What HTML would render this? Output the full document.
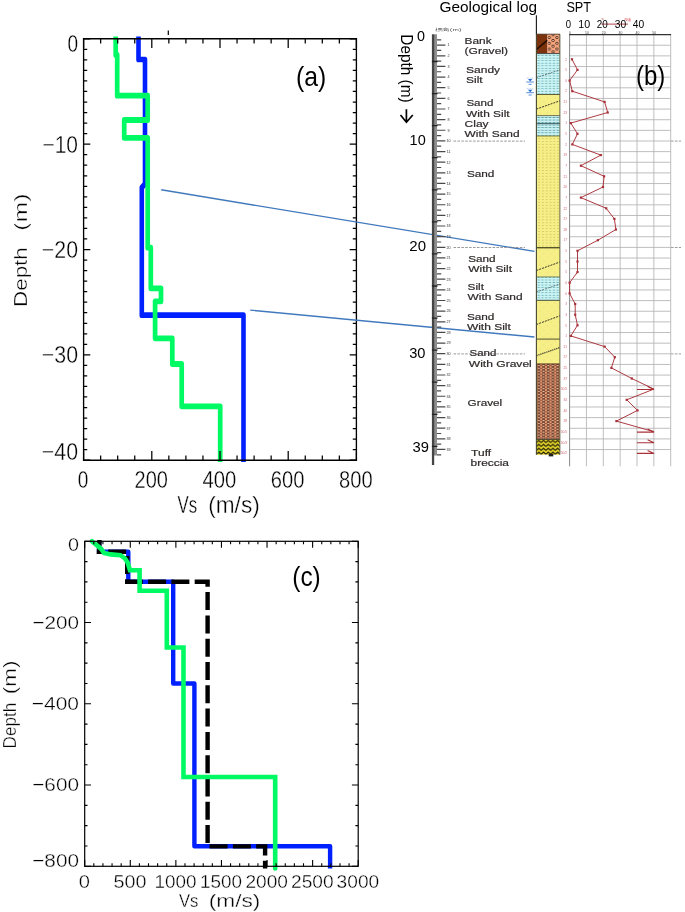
<!DOCTYPE html>
<html lang="en"><head><meta charset="utf-8"><title>Vs profiles and geological log</title>
<style>
html,body{margin:0;padding:0;background:#fff}
svg{display:block}
text{font-family:"Liberation Sans", sans-serif}
.idl text{fill:#000;stroke:#fff;stroke-width:0.34px}
</style></head><body>
<svg width="685" height="912" viewBox="0 0 685 912">
<defs>
<filter id="soft" x="-5%" y="-5%" width="110%" height="110%"><feGaussianBlur stdDeviation="0.45"/></filter>
<filter id="soft2" x="-5%" y="-5%" width="110%" height="110%"><feGaussianBlur stdDeviation="0.3"/></filter>
<pattern id="pBank" width="7.6" height="5.7" patternUnits="userSpaceOnUse" x="547.4" y="36.2">
 <rect width="7.6" height="5.7" fill="#f6a57e"/>
 <ellipse cx="1.9" cy="1.4" rx="1.4" ry="1" fill="#f8c0a0" stroke="#35180a" stroke-width="0.8"/>
 <ellipse cx="5.7" cy="4.25" rx="1.4" ry="1" fill="#f8c0a0" stroke="#35180a" stroke-width="0.8"/>
</pattern>
<pattern id="pCyan" width="3.8" height="2.55" patternUnits="userSpaceOnUse" x="536.8" y="54.3">
 <rect width="3.8" height="2.55" fill="#cbf4f5"/>
 <rect x="0.7" y="0.95" width="2.3" height="0.6" fill="#4b979e"/>
</pattern>
<pattern id="pCyan2" width="3.8" height="2.55" patternUnits="userSpaceOnUse" x="536.8" y="116.2">
 <rect width="3.8" height="2.55" fill="#c9f3f4"/>
 <rect x="0.6" y="0.9" width="2.6" height="0.65" fill="#3c7f88"/>
</pattern>
<pattern id="pYel" width="7.6" height="7.6" patternUnits="userSpaceOnUse" x="538" y="96">
 <rect width="7.6" height="7.6" fill="#f6ee86"/>
 <circle cx="1.9" cy="1.9" r="0.45" fill="#dccb6a"/><circle cx="5.7" cy="5.7" r="0.45" fill="#dccb6a"/>
</pattern>
<pattern id="pDots" width="3.8" height="2.9" patternUnits="userSpaceOnUse" x="537.2" y="137.2">
 <rect width="3.8" height="2.9" fill="#f6ee86"/>
 <rect x="1.4" y="1.0" width="1.0" height="0.9" fill="#bba84c"/>
</pattern>
<pattern id="pGrav" width="4.7" height="2.9" patternUnits="userSpaceOnUse" x="536.5" y="364">
 <rect width="4.7" height="2.9" fill="#ee9a74"/>
 <ellipse cx="2.35" cy="1.45" rx="1.7" ry="0.95" fill="#fbc9ab" stroke="#3c1505" stroke-width="0.8"/>
</pattern>
<pattern id="pTuff" width="4.7" height="3.9" patternUnits="userSpaceOnUse" x="536.5" y="439.4">
 <rect width="4.7" height="3.9" fill="#e9d82a"/>
 <path d="M0,3.9L2.35,1.9L4.7,3.9L4.7,2.4L2.35,0.3L0,2.4z" fill="#1e1a08"/>
</pattern>
</defs>
<g id="panelA">
<g transform="scale(1,1.24)"><polyline points="138.5,29.44 138.5,47.98 145.0,47.98 145.0,148.39 141.8,151.21 141.8,254.19 243.5,254.19 243.5,372.58" fill="none" stroke="#0020ff" stroke-width="4.6" stroke-linejoin="round" /></g>
<g transform="scale(1,1.24)"><polyline points="115.7,29.44 115.7,44.35 117.2,44.35 117.2,77.18 147.7,77.18 147.7,96.77 124.2,96.77 124.2,111.13 147.7,111.13 147.7,199.76 150.8,199.76 150.8,232.50 161.0,232.50 161.0,242.98 155.1,242.98 155.1,272.82 172.3,272.82 172.3,293.55 181.7,293.55 181.7,327.66 220.2,327.66 220.2,372.58" fill="none" stroke="#00fa64" stroke-width="4.7" stroke-linejoin="round" /></g>
<path d="M82.89999999999999,38.8H357.09999999999997M82.89999999999999,460.2H357.09999999999997" stroke="#000" stroke-width="1.6" fill="none"/>
<path d="M83.6,38.8V460.2M356.4,38.8V460.2" stroke="#000" stroke-width="1.35" fill="none"/>
<path d="M83.60,460.2v-9.3M83.60,38.8v9.3M100.65,460.2v-4.7M100.65,38.8v4.7M117.70,460.2v-4.7M117.70,38.8v4.7M134.75,460.2v-4.7M134.75,38.8v4.7M151.80,460.2v-9.3M151.80,38.8v9.3M168.85,460.2v-4.7M168.85,38.8v4.7M185.90,460.2v-4.7M185.90,38.8v4.7M202.95,460.2v-4.7M202.95,38.8v4.7M220.00,460.2v-9.3M220.00,38.8v9.3M237.05,460.2v-4.7M237.05,38.8v4.7M254.10,460.2v-4.7M254.10,38.8v4.7M271.15,460.2v-4.7M271.15,38.8v4.7M288.20,460.2v-9.3M288.20,38.8v9.3M305.25,460.2v-4.7M305.25,38.8v4.7M322.30,460.2v-4.7M322.30,38.8v4.7M339.35,460.2v-4.7M339.35,38.8v4.7M356.40,460.2v-9.3M356.40,38.8v9.3M83.6,38.80h6.7M356.4,38.80h-6.7M83.6,49.33h3.6M356.4,49.33h-3.6M83.6,59.87h3.6M356.4,59.87h-3.6M83.6,70.41h3.6M356.4,70.41h-3.6M83.6,80.94h3.6M356.4,80.94h-3.6M83.6,91.47h3.6M356.4,91.47h-3.6M83.6,102.01h3.6M356.4,102.01h-3.6M83.6,112.54h3.6M356.4,112.54h-3.6M83.6,123.08h3.6M356.4,123.08h-3.6M83.6,133.62h3.6M356.4,133.62h-3.6M83.6,144.15h6.7M356.4,144.15h-6.7M83.6,154.69h3.6M356.4,154.69h-3.6M83.6,165.22h3.6M356.4,165.22h-3.6M83.6,175.75h3.6M356.4,175.75h-3.6M83.6,186.29h3.6M356.4,186.29h-3.6M83.6,196.82h3.6M356.4,196.82h-3.6M83.6,207.36h3.6M356.4,207.36h-3.6M83.6,217.89h3.6M356.4,217.89h-3.6M83.6,228.43h3.6M356.4,228.43h-3.6M83.6,238.96h3.6M356.4,238.96h-3.6M83.6,249.50h6.7M356.4,249.50h-6.7M83.6,260.03h3.6M356.4,260.03h-3.6M83.6,270.57h3.6M356.4,270.57h-3.6M83.6,281.10h3.6M356.4,281.10h-3.6M83.6,291.64h3.6M356.4,291.64h-3.6M83.6,302.18h3.6M356.4,302.18h-3.6M83.6,312.71h3.6M356.4,312.71h-3.6M83.6,323.25h3.6M356.4,323.25h-3.6M83.6,333.78h3.6M356.4,333.78h-3.6M83.6,344.31h3.6M356.4,344.31h-3.6M83.6,354.85h6.7M356.4,354.85h-6.7M83.6,365.38h3.6M356.4,365.38h-3.6M83.6,375.92h3.6M356.4,375.92h-3.6M83.6,386.45h3.6M356.4,386.45h-3.6M83.6,396.99h3.6M356.4,396.99h-3.6M83.6,407.53h3.6M356.4,407.53h-3.6M83.6,418.06h3.6M356.4,418.06h-3.6M83.6,428.59h3.6M356.4,428.59h-3.6M83.6,439.13h3.6M356.4,439.13h-3.6M83.6,449.66h3.6M356.4,449.66h-3.6M83.6,460.20h6.7M356.4,460.20h-6.7" stroke="#000" stroke-width="1.25" fill="none"/>
<path d="M168.3,30.5v4.5" stroke="#000" stroke-width="1.2"/>
<g class="idl">
<text x="83.0" y="488.4" font-size="24.2" text-anchor="middle" fill="#000" textLength="10.6" lengthAdjust="spacingAndGlyphs" >0</text>
<text x="151.2" y="488.4" font-size="24.2" text-anchor="middle" fill="#000" textLength="33.4" lengthAdjust="spacingAndGlyphs" >200</text>
<text x="219.4" y="488.4" font-size="24.2" text-anchor="middle" fill="#000" textLength="33.8" lengthAdjust="spacingAndGlyphs" >400</text>
<text x="287.6" y="488.4" font-size="24.2" text-anchor="middle" fill="#000" textLength="33.6" lengthAdjust="spacingAndGlyphs" >600</text>
<text x="355.8" y="488.4" font-size="24.2" text-anchor="middle" fill="#000" textLength="33.6" lengthAdjust="spacingAndGlyphs" >800</text>
<text x="78.0" y="51.8" font-size="24.2" text-anchor="end" fill="#000" textLength="10.6" lengthAdjust="spacingAndGlyphs" >0</text>
<text x="78.0" y="152.6" font-size="24.2" text-anchor="end" fill="#000" textLength="35.6" lengthAdjust="spacingAndGlyphs" >−10</text>
<text x="78.0" y="258.0" font-size="24.2" text-anchor="end" fill="#000" textLength="36.2" lengthAdjust="spacingAndGlyphs" >−20</text>
<text x="78.0" y="363.4" font-size="24.2" text-anchor="end" fill="#000" textLength="36.2" lengthAdjust="spacingAndGlyphs" >−30</text>
<text x="78.0" y="459.8" font-size="24.2" text-anchor="end" fill="#000" textLength="36.2" lengthAdjust="spacingAndGlyphs" >−40</text>
<text x="177.6" y="512.8" font-size="23.4" text-anchor="start" fill="#000" textLength="19.6" lengthAdjust="spacingAndGlyphs" >Vs</text>
<text x="208.2" y="512.8" font-size="23.4" text-anchor="start" fill="#000" textLength="51.6" lengthAdjust="spacingAndGlyphs" >(m/s)</text>
<text transform="translate(26.8,307) rotate(-90)" font-size="17.8" textLength="59.8" lengthAdjust="spacingAndGlyphs">Depth</text>
<text transform="translate(26.8,230.8) rotate(-90)" font-size="17.8" textLength="37.2" lengthAdjust="spacingAndGlyphs">(m)</text>
</g>
<text x="311.2" y="86.2" font-size="27.5" text-anchor="middle" fill="#000" textLength="30.2" lengthAdjust="spacingAndGlyphs" class="cal">(a)</text>
</g>
<g id="panelC">
<polyline points="99.4,541.3 99.0,551.7 128.3,551.7 128.3,581.8 173.2,581.8 173.2,683.5 194.4,683.5 194.4,846.2 330.1,846.2 330.1,868.5" fill="none" stroke="#0020ff" stroke-width="4.4" stroke-linejoin="round" />
<polyline points="99.5,540.0 98.9,551.7 127.2,551.7 127.2,581.7 207.6,581.7 207.6,846.4 265.1,846.4 265.1,868.5" fill="none" stroke="#000" stroke-width="4.4" stroke-linejoin="miter" stroke-dasharray="18 5.3" stroke-dashoffset="2.3"/>
<polyline points="92.0,541.3 101.2,548.9 104.0,553.0 110.8,554.4 120.4,555.2 125.0,558.5 127.6,562.5 130.0,570.2 139.6,570.2 139.6,590.7 166.8,590.7 166.8,647.5 183.5,647.5 183.5,777.0 275.2,777.0 275.2,868.5" fill="none" stroke="#00fa64" stroke-width="4.6" stroke-linejoin="miter" stroke-linecap="round"/>
<rect x="84.7" y="541.3" width="273.5" height="325.0" fill="none" stroke="#000" stroke-width="1.2"/>
<path d="M84.70,866.3v-6.4M84.70,541.3v6.4M93.82,866.3v-3.0M93.82,541.3v3.0M102.93,866.3v-3.0M102.93,541.3v3.0M112.05,866.3v-3.0M112.05,541.3v3.0M121.17,866.3v-3.0M121.17,541.3v3.0M130.28,866.3v-6.4M130.28,541.3v6.4M139.40,866.3v-3.0M139.40,541.3v3.0M148.52,866.3v-3.0M148.52,541.3v3.0M157.63,866.3v-3.0M157.63,541.3v3.0M166.75,866.3v-3.0M166.75,541.3v3.0M175.87,866.3v-6.4M175.87,541.3v6.4M184.98,866.3v-3.0M184.98,541.3v3.0M194.10,866.3v-3.0M194.10,541.3v3.0M203.22,866.3v-3.0M203.22,541.3v3.0M212.33,866.3v-3.0M212.33,541.3v3.0M221.45,866.3v-6.4M221.45,541.3v6.4M230.57,866.3v-3.0M230.57,541.3v3.0M239.68,866.3v-3.0M239.68,541.3v3.0M248.80,866.3v-3.0M248.80,541.3v3.0M257.92,866.3v-3.0M257.92,541.3v3.0M267.03,866.3v-6.4M267.03,541.3v6.4M276.15,866.3v-3.0M276.15,541.3v3.0M285.27,866.3v-3.0M285.27,541.3v3.0M294.38,866.3v-3.0M294.38,541.3v3.0M303.50,866.3v-3.0M303.50,541.3v3.0M312.62,866.3v-6.4M312.62,541.3v6.4M321.73,866.3v-3.0M321.73,541.3v3.0M330.85,866.3v-3.0M330.85,541.3v3.0M339.97,866.3v-3.0M339.97,541.3v3.0M349.08,866.3v-3.0M349.08,541.3v3.0M358.20,866.3v-6.4M358.20,541.3v6.4M84.7,541.30h6.3M358.2,541.30h-6.3M84.7,561.61h2.8M358.2,561.61h-2.8M84.7,581.92h2.8M358.2,581.92h-2.8M84.7,602.24h2.8M358.2,602.24h-2.8M84.7,622.55h6.3M358.2,622.55h-6.3M84.7,642.86h2.8M358.2,642.86h-2.8M84.7,663.17h2.8M358.2,663.17h-2.8M84.7,683.49h2.8M358.2,683.49h-2.8M84.7,703.80h6.3M358.2,703.80h-6.3M84.7,724.11h2.8M358.2,724.11h-2.8M84.7,744.42h2.8M358.2,744.42h-2.8M84.7,764.74h2.8M358.2,764.74h-2.8M84.7,785.05h6.3M358.2,785.05h-6.3M84.7,805.36h2.8M358.2,805.36h-2.8M84.7,825.67h2.8M358.2,825.67h-2.8M84.7,845.99h2.8M358.2,845.99h-2.8M84.7,866.30h6.3M358.2,866.30h-6.3" stroke="#000" stroke-width="1.1" fill="none"/>
<g class="idl">
<text x="84.4" y="888.3" font-size="18.6" text-anchor="middle" fill="#000" textLength="11.2" lengthAdjust="spacingAndGlyphs" >0</text>
<text x="130.0" y="888.3" font-size="18.6" text-anchor="middle" fill="#000" textLength="33" lengthAdjust="spacingAndGlyphs" >500</text>
<text x="175.6" y="888.3" font-size="18.6" text-anchor="middle" fill="#000" textLength="42" lengthAdjust="spacingAndGlyphs" >1000</text>
<text x="221.1" y="888.3" font-size="18.6" text-anchor="middle" fill="#000" textLength="42" lengthAdjust="spacingAndGlyphs" >1500</text>
<text x="266.7" y="888.3" font-size="18.6" text-anchor="middle" fill="#000" textLength="42.6" lengthAdjust="spacingAndGlyphs" >2000</text>
<text x="312.3" y="888.3" font-size="18.6" text-anchor="middle" fill="#000" textLength="42.6" lengthAdjust="spacingAndGlyphs" >2500</text>
<text x="357.9" y="888.3" font-size="18.6" text-anchor="middle" fill="#000" textLength="42.6" lengthAdjust="spacingAndGlyphs" >3000</text>
<text x="79.0" y="551.4" font-size="19.200000000000003" text-anchor="end" fill="#000" textLength="11" lengthAdjust="spacingAndGlyphs" >0</text>
<text x="79.0" y="628.5" font-size="19.200000000000003" text-anchor="end" fill="#000" textLength="46.6" lengthAdjust="spacingAndGlyphs" >−200</text>
<text x="79.0" y="709.8" font-size="19.200000000000003" text-anchor="end" fill="#000" textLength="47.2" lengthAdjust="spacingAndGlyphs" >−400</text>
<text x="79.0" y="791.0" font-size="19.200000000000003" text-anchor="end" fill="#000" textLength="46.8" lengthAdjust="spacingAndGlyphs" >−600</text>
<text x="79.0" y="867.1" font-size="19.200000000000003" text-anchor="end" fill="#000" textLength="46.8" lengthAdjust="spacingAndGlyphs" >−800</text>
<text x="178.9" y="906.7" font-size="18.0" text-anchor="start" fill="#000" textLength="19.4" lengthAdjust="spacingAndGlyphs" >Vs</text>
<text x="208.7" y="906.7" font-size="18.0" text-anchor="start" fill="#000" textLength="51.7" lengthAdjust="spacingAndGlyphs" >(m/s)</text>
<text transform="translate(16.2,748.4) rotate(-90)" font-size="17.5" textLength="45.6" lengthAdjust="spacingAndGlyphs">Depth</text>
<text transform="translate(16.2,694.2) rotate(-90)" font-size="17.5" textLength="33.8" lengthAdjust="spacingAndGlyphs">(m)</text>
</g>
<text x="306.5" y="586" font-size="27.5" text-anchor="middle" fill="#000" textLength="28.5" lengthAdjust="spacingAndGlyphs" class="cal">(c)</text>
</g>
<path d="M161.2,189.8L534.5,251.4M250.2,310.1L534.4,337" stroke="#4179bd" stroke-width="1.4" fill="none"/>
<g id="panelB">
<g filter="url(#soft)">
<rect x="434" y="34.3" width="3" height="421.2" fill="#8e8e8e"/>
<rect x="431.9" y="34.3" width="2.3" height="430.7" fill="#444"/>
<path d="M437,45.14h8.4M437,55.78h8.4M437,66.42h8.4M437,77.06h8.4M437,87.70h8.4M437,98.34h8.4M437,108.98h8.4M437,119.62h8.4M437,130.26h8.4M437,140.90h8.4M437,151.54h8.4M437,162.18h8.4M437,172.82h8.4M437,183.46h8.4M437,194.10h8.4M437,204.74h8.4M437,215.38h8.4M437,226.02h8.4M437,236.66h8.4M437,247.30h8.4M437,257.94h8.4M437,268.58h8.4M437,279.22h8.4M437,289.86h8.4M437,300.50h8.4M437,311.14h8.4M437,321.78h8.4M437,332.42h8.4M437,343.06h8.4M437,353.70h8.4M437,364.34h8.4M437,374.98h8.4M437,385.62h8.4M437,396.26h8.4M437,406.90h8.4M437,417.54h8.4M437,428.18h8.4M437,438.82h8.4M437,449.46h8.4" stroke="#4a4a4a" stroke-width="1.2"/>
<path d="M437,39.82h4.2M437,50.46h4.2M437,61.10h4.2M437,71.74h4.2M437,82.38h4.2M437,93.02h4.2M437,103.66h4.2M437,114.30h4.2M437,124.94h4.2M437,135.58h4.2M437,146.22h4.2M437,156.86h4.2M437,167.50h4.2M437,178.14h4.2M437,188.78h4.2M437,199.42h4.2M437,210.06h4.2M437,220.70h4.2M437,231.34h4.2M437,241.98h4.2M437,252.62h4.2M437,263.26h4.2M437,273.90h4.2M437,284.54h4.2M437,295.18h4.2M437,305.82h4.2M437,316.46h4.2M437,327.10h4.2M437,337.74h4.2M437,348.38h4.2M437,359.02h4.2M437,369.66h4.2M437,380.30h4.2M437,390.94h4.2M437,401.58h4.2M437,412.22h4.2M437,422.86h4.2M437,433.50h4.2M437,444.14h4.2M437,454.78h4.2" stroke="#4a4a4a" stroke-width="1.2"/>
<path d="M431.9,61.5h5.6M431.9,93.6h5.6M431.9,125.6h5.6M431.9,157.7h5.6M431.9,189.8h5.6M431.9,221.8h5.6M431.9,253.9h5.6M431.9,286.0h5.6M431.9,318.1h5.6M431.9,350.1h5.6M431.9,382.2h5.6M431.9,414.3h5.6M431.9,446.3h5.6" stroke="#222" stroke-width="1.3"/>
<g font-size="3.7" fill="#333" text-anchor="middle">
<text x="448.6" y="46.4">1</text>
<text x="448.6" y="57.1">2</text>
<text x="448.6" y="67.7">3</text>
<text x="448.6" y="78.4">4</text>
<text x="448.6" y="89.0">5</text>
<text x="448.6" y="99.6">6</text>
<text x="448.6" y="110.3">7</text>
<text x="448.6" y="120.9">8</text>
<text x="448.6" y="131.6">9</text>
<text x="448.6" y="142.2">10</text>
<text x="448.6" y="152.8">11</text>
<text x="448.6" y="163.5">12</text>
<text x="448.6" y="174.1">13</text>
<text x="448.6" y="184.8">14</text>
<text x="448.6" y="195.4">15</text>
<text x="448.6" y="206.0">16</text>
<text x="448.6" y="216.7">17</text>
<text x="448.6" y="227.3">18</text>
<text x="448.6" y="238.0">19</text>
<text x="448.6" y="248.6">20</text>
<text x="448.6" y="259.2">21</text>
<text x="448.6" y="269.9">22</text>
<text x="448.6" y="280.5">23</text>
<text x="448.6" y="291.2">24</text>
<text x="448.6" y="301.8">25</text>
<text x="448.6" y="312.4">26</text>
<text x="448.6" y="323.1">27</text>
<text x="448.6" y="333.7">28</text>
<text x="448.6" y="344.4">29</text>
<text x="448.6" y="355.0">30</text>
<text x="448.6" y="365.6">31</text>
<text x="448.6" y="376.3">32</text>
<text x="448.6" y="386.9">33</text>
<text x="448.6" y="397.6">34</text>
<text x="448.6" y="408.2">35</text>
<text x="448.6" y="418.8">36</text>
<text x="448.6" y="429.5">37</text>
<text x="448.6" y="440.1">38</text>
<text x="448.6" y="450.8">39</text>
</g>
<text x="435" y="31.2" font-size="4.2" fill="#555" textLength="26.5" lengthAdjust="spacingAndGlyphs" font-family='"Liberation Sans","Noto Sans CJK JP",sans-serif'>標高(m)</text>
<path d="M453.5,141.1H525M671,141.1H681" stroke="#808080" stroke-width="0.8" stroke-dasharray="2.6 1.3"/>
<path d="M453.5,247.5H525M671,247.5H681" stroke="#808080" stroke-width="0.8" stroke-dasharray="2.6 1.3"/>
<path d="M453.5,353.9H525M671,353.9H681" stroke="#808080" stroke-width="0.8" stroke-dasharray="2.6 1.3"/>
</g>
<g filter="url(#soft2)" fill="#2e2a2a" stroke="#2e2a2a" stroke-width="0.18">
<text x="464.6" y="43.8" font-size="8.3" text-anchor="start" fill="#2e2a2a" textLength="27" lengthAdjust="spacingAndGlyphs" >Bank</text>
<text x="464.6" y="54" font-size="8.3" text-anchor="start" fill="#2e2a2a" textLength="43.4" lengthAdjust="spacingAndGlyphs" >(Gravel)</text>
<text x="466.1" y="73" font-size="8.3" text-anchor="start" fill="#2e2a2a" textLength="34" lengthAdjust="spacingAndGlyphs" >Sandy</text>
<text x="466.1" y="83.2" font-size="8.3" text-anchor="start" fill="#2e2a2a" textLength="16.6" lengthAdjust="spacingAndGlyphs" >Silt</text>
<text x="466.4" y="106.3" font-size="8.3" text-anchor="start" fill="#2e2a2a" textLength="27" lengthAdjust="spacingAndGlyphs" >Sand</text>
<text x="466" y="116.8" font-size="8.3" text-anchor="start" fill="#2e2a2a" textLength="43.6" lengthAdjust="spacingAndGlyphs" >With Silt</text>
<text x="464.6" y="127.1" font-size="8.3" text-anchor="start" fill="#2e2a2a" textLength="24" lengthAdjust="spacingAndGlyphs" >Clay</text>
<text x="464.6" y="137" font-size="8.3" text-anchor="start" fill="#2e2a2a" textLength="55" lengthAdjust="spacingAndGlyphs" >With Sand</text>
<text x="466.9" y="177.2" font-size="8.3" text-anchor="start" fill="#2e2a2a" textLength="27.5" lengthAdjust="spacingAndGlyphs" >Sand</text>
<text x="468.3" y="261.7" font-size="8.3" text-anchor="start" fill="#2e2a2a" textLength="27.3" lengthAdjust="spacingAndGlyphs" >Sand</text>
<text x="468.3" y="271.5" font-size="8.3" text-anchor="start" fill="#2e2a2a" textLength="43.7" lengthAdjust="spacingAndGlyphs" >With Silt</text>
<text x="467.6" y="290.2" font-size="8.3" text-anchor="start" fill="#2e2a2a" textLength="16.4" lengthAdjust="spacingAndGlyphs" >Silt</text>
<text x="467.6" y="299.6" font-size="8.3" text-anchor="start" fill="#2e2a2a" textLength="55" lengthAdjust="spacingAndGlyphs" >With Sand</text>
<text x="466.9" y="320.1" font-size="8.3" text-anchor="start" fill="#2e2a2a" textLength="27.5" lengthAdjust="spacingAndGlyphs" >Sand</text>
<text x="466.9" y="329.9" font-size="8.3" text-anchor="start" fill="#2e2a2a" textLength="43.9" lengthAdjust="spacingAndGlyphs" >With Silt</text>
<text x="469.5" y="356.3" font-size="8.3" text-anchor="start" fill="#2e2a2a" textLength="26.8" lengthAdjust="spacingAndGlyphs" >Sand</text>
<text x="468.8" y="366.6" font-size="8.3" text-anchor="start" fill="#2e2a2a" textLength="63" lengthAdjust="spacingAndGlyphs" >With Gravel</text>
<text x="467.6" y="406" font-size="8.3" text-anchor="start" fill="#2e2a2a" textLength="34.6" lengthAdjust="spacingAndGlyphs" >Gravel</text>
<text x="471.1" y="455.8" font-size="8.3" text-anchor="start" fill="#2e2a2a" textLength="20" lengthAdjust="spacingAndGlyphs" >Tuff</text>
<text x="470.6" y="466.1" font-size="8.3" text-anchor="start" fill="#2e2a2a" textLength="38.4" lengthAdjust="spacingAndGlyphs" >breccia</text>
</g>
<g filter="url(#soft2)">
<rect x="536.4" y="34.2" width="10.800000000000068" height="19.4" fill="#7b3208"/>
<rect x="547.2" y="34.2" width="12.699999999999932" height="19.4" fill="url(#pBank)"/>
<path d="M536.4,49.5L547.2,40.4" stroke="#1a0a00" stroke-width="1.4"/>
<rect x="536.4" y="53.6" width="23.5" height="40.9" fill="url(#pCyan)"/>
<rect x="536.4" y="94.5" width="23.5" height="21.099999999999994" fill="url(#pYel)"/>
<rect x="536.4" y="115.6" width="23.5" height="8.100000000000009" fill="url(#pCyan2)"/>
<rect x="536.4" y="123.7" width="23.5" height="12.299999999999997" fill="url(#pCyan2)"/>
<rect x="536.4" y="136" width="23.5" height="111.69999999999999" fill="url(#pDots)"/>
<rect x="536.4" y="247.7" width="23.5" height="29.19999999999999" fill="url(#pYel)"/>
<rect x="536.4" y="276.9" width="23.5" height="23.400000000000034" fill="url(#pCyan)"/>
<rect x="536.4" y="300.3" width="23.5" height="38.80000000000001" fill="url(#pYel)"/>
<rect x="536.4" y="339.1" width="23.5" height="24.799999999999955" fill="url(#pYel)"/>
<rect x="536.4" y="363.9" width="23.5" height="75.40000000000003" fill="url(#pGrav)"/>
<rect x="536.4" y="439.3" width="23.5" height="15.399999999999977" fill="url(#pTuff)"/>
<path d="M536.4,53.6H559.9" stroke="#3a3a3a" stroke-width="0.9"/>
<path d="M536.4,94.5H559.9" stroke="#4f4f2c" stroke-width="0.9"/>
<path d="M536.4,115.6H559.9" stroke="#66663a" stroke-width="0.9"/>
<path d="M536.4,123.7H559.9" stroke="#2f5055" stroke-width="1.0"/>
<path d="M536.4,136H559.9" stroke="#77773a" stroke-width="0.9"/>
<path d="M536.4,247.7H559.9" stroke="#55552a" stroke-width="1.4"/>
<path d="M536.4,276.9H559.9" stroke="#66774a" stroke-width="0.8"/>
<path d="M536.4,300.3H559.9" stroke="#3f4f3f" stroke-width="1.0"/>
<path d="M536.4,339.1H559.9" stroke="#2a2a1a" stroke-width="0.8"/>
<path d="M536.4,363.9H559.9" stroke="#4a2a10" stroke-width="0.8"/>
<path d="M536.4,439.3H559.9" stroke="#222" stroke-width="0.9"/>
<path d="M536.4,77.6L559.9,69.9" stroke="#222" stroke-width="1.0" stroke-dasharray="2 1" opacity="0.55"/>
<path d="M536.4,109.1L559.9,100.8" stroke="#222" stroke-width="1.0" stroke-dasharray="2 1" opacity="0.9"/>
<path d="M536.4,270.5L559.9,262" stroke="#222" stroke-width="1.0" stroke-dasharray="2 1" opacity="0.9"/>
<path d="M536.4,292L559.9,284" stroke="#222" stroke-width="1.0" stroke-dasharray="2 1" opacity="0.55"/>
<path d="M536.4,324.5L559.9,315.8" stroke="#222" stroke-width="1.0" stroke-dasharray="2 1" opacity="0.9"/>
<path d="M536.4,355.7L559.9,347.5" stroke="#222" stroke-width="1.3" stroke-dasharray="1.2 0.9" opacity="0.9"/>
<rect x="548.7" y="454" width="4.6" height="2.4" fill="#222"/>
<path d="M536.4,15.3V34.5" stroke="#1a1a1a" stroke-width="1.1"/>
<path d="M536.4,34.2V454.7" stroke="#474733" stroke-width="1.1"/>
<path d="M559.9,34.2V454.7" stroke="#55553a" stroke-width="0.9"/>
<path d="M536.4,34.2H559.9" stroke="#3a2a1a" stroke-width="0.8"/>
<g stroke="#2a6fd0" fill="#2a6fd0"><path d="M528,79.10000000000001h4.4l-2.2,2.4z" stroke="none"/><path d="M526.3,82.0h7.6M528.6,84.3h3" stroke-width="0.8"/><path d="M526.8,78.10000000000001h6.6" stroke-width="0.6" stroke-dasharray="1 0.8" opacity="0.7"/></g>
<g stroke="#2a6fd0" fill="#2a6fd0"><path d="M528,89.80000000000001h4.4l-2.2,2.4z" stroke="none"/><path d="M526.3,92.7h7.6M528.6,95.0h3" stroke-width="0.8"/><path d="M526.8,88.80000000000001h6.6" stroke-width="0.6" stroke-dasharray="1 0.8" opacity="0.7"/></g>
</g>
<g filter="url(#soft)">
<path d="M569.6,45.24H670.7M569.6,55.88H670.7M569.6,66.52H670.7M569.6,77.16H670.7M569.6,87.80H670.7M569.6,98.44H670.7M569.6,109.08H670.7M569.6,119.72H670.7M569.6,130.36H670.7M569.6,141.00H670.7M569.6,151.64H670.7M569.6,162.28H670.7M569.6,172.92H670.7M569.6,183.56H670.7M569.6,194.20H670.7M569.6,204.84H670.7M569.6,215.48H670.7M569.6,226.12H670.7M569.6,236.76H670.7M569.6,247.40H670.7M569.6,258.04H670.7M569.6,268.68H670.7M569.6,279.32H670.7M569.6,289.96H670.7M569.6,300.60H670.7M569.6,311.24H670.7M569.6,321.88H670.7M569.6,332.52H670.7M569.6,343.16H670.7M569.6,353.80H670.7M569.6,364.44H670.7M569.6,375.08H670.7M569.6,385.72H670.7M569.6,396.36H670.7M569.6,407.00H670.7M569.6,417.64H670.7M569.6,428.28H670.7M569.6,438.92H670.7M569.6,449.56H670.7M586.45,34.6V466.3M603.30,34.6V466.3M620.15,34.6V466.3M637.00,34.6V466.3M653.85,34.6V466.3M670.70,34.6V466.3" stroke="#b2b2b2" stroke-width="0.85" fill="none"/>
<path d="M569.6,34.6V466.3" stroke="#888" stroke-width="1"/>
<path d="M569.2,34.7H671.1" stroke="#333" stroke-width="1.2"/>
<g font-size="3.4" fill="#444" text-anchor="middle">
<text x="570.0" y="34">0</text>
<text x="586.9" y="34">10</text>
<text x="603.7" y="34">20</text>
<text x="620.5" y="34">30</text>
<text x="637.4" y="34">40</text>
<text x="654.2" y="34">50</text>
</g>
<polyline points="572.0,59.3 577.5,69.9 569.6,80.6 572.3,91.2 604.6,101.9 607.7,112.5 570.8,123.1 577.5,133.8 572.3,144.4 600.8,155.1 580.9,165.7 604.1,176.3 603.0,187.0 580.9,197.6 606.2,208.3 614.4,218.9 615.9,229.5 597.9,240.2 577.5,250.8 577.5,261.5 577.5,272.1 569.6,282.7 569.6,293.4 575.2,304.0 575.2,314.7 577.5,325.3 570.8,335.9 604.6,346.6 614.8,357.2 611.4,367.9 631.8,378.5 653.9,389.1 626.7,399.8 637.5,410.4 616.4,421.1 653.9,431.7" fill="none" stroke="#a93038" stroke-width="0.95" stroke-linejoin="round"/>
<rect x="570.9" y="58.2" width="2.2" height="2.2" fill="#a93038"/>
<rect x="576.4" y="68.8" width="2.2" height="2.2" fill="#a93038"/>
<rect x="568.5" y="79.5" width="2.2" height="2.2" fill="#a93038"/>
<rect x="571.2" y="90.1" width="2.2" height="2.2" fill="#a93038"/>
<rect x="603.5" y="100.8" width="2.2" height="2.2" fill="#a93038"/>
<rect x="606.6" y="111.4" width="2.2" height="2.2" fill="#a93038"/>
<rect x="569.7" y="122.0" width="2.2" height="2.2" fill="#a93038"/>
<rect x="576.4" y="132.7" width="2.2" height="2.2" fill="#a93038"/>
<rect x="571.2" y="143.3" width="2.2" height="2.2" fill="#a93038"/>
<rect x="599.7" y="154.0" width="2.2" height="2.2" fill="#a93038"/>
<rect x="579.8" y="164.6" width="2.2" height="2.2" fill="#a93038"/>
<rect x="603.0" y="175.2" width="2.2" height="2.2" fill="#a93038"/>
<rect x="601.9" y="185.9" width="2.2" height="2.2" fill="#a93038"/>
<rect x="579.8" y="196.5" width="2.2" height="2.2" fill="#a93038"/>
<rect x="605.1" y="207.2" width="2.2" height="2.2" fill="#a93038"/>
<rect x="613.3" y="217.8" width="2.2" height="2.2" fill="#a93038"/>
<rect x="614.8" y="228.4" width="2.2" height="2.2" fill="#a93038"/>
<rect x="596.8" y="239.1" width="2.2" height="2.2" fill="#a93038"/>
<rect x="576.4" y="249.7" width="2.2" height="2.2" fill="#a93038"/>
<rect x="576.4" y="260.4" width="2.2" height="2.2" fill="#a93038"/>
<rect x="576.4" y="271.0" width="2.2" height="2.2" fill="#a93038"/>
<rect x="568.5" y="281.6" width="2.2" height="2.2" fill="#a93038"/>
<rect x="568.5" y="292.3" width="2.2" height="2.2" fill="#a93038"/>
<rect x="574.1" y="302.9" width="2.2" height="2.2" fill="#a93038"/>
<rect x="574.1" y="313.6" width="2.2" height="2.2" fill="#a93038"/>
<rect x="576.4" y="324.2" width="2.2" height="2.2" fill="#a93038"/>
<rect x="569.7" y="334.8" width="2.2" height="2.2" fill="#a93038"/>
<rect x="603.5" y="345.5" width="2.2" height="2.2" fill="#a93038"/>
<rect x="613.7" y="356.1" width="2.2" height="2.2" fill="#a93038"/>
<rect x="610.3" y="366.8" width="2.2" height="2.2" fill="#a93038"/>
<rect x="630.7" y="377.4" width="2.2" height="2.2" fill="#a93038"/>
<rect x="625.6" y="398.7" width="2.2" height="2.2" fill="#a93038"/>
<rect x="636.4" y="409.3" width="2.2" height="2.2" fill="#a93038"/>
<rect x="615.3" y="420.0" width="2.2" height="2.2" fill="#a93038"/>
<path d="M637,389.5H654L647.6,386.5M637,432.1H654L647.6,429.1M637,442.7H654L647.6,439.7M637,453.4H654L647.6,450.4" stroke="#a93038" stroke-width="1.1" fill="none"/>
<g font-size="3.3" fill="#d06a78" text-anchor="end">
<text x="567.2" y="60.5">2</text>
<text x="567.2" y="71.1">5</text>
<text x="567.2" y="81.8">0</text>
<text x="567.2" y="92.4">2</text>
<text x="567.2" y="103.1">21</text>
<text x="567.2" y="113.7">23</text>
<text x="567.2" y="124.3">1</text>
<text x="567.2" y="135.0">5</text>
<text x="567.2" y="145.6">2</text>
<text x="567.2" y="156.3">19</text>
<text x="567.2" y="166.9">7</text>
<text x="567.2" y="177.5">21</text>
<text x="567.2" y="188.2">20</text>
<text x="567.2" y="198.8">7</text>
<text x="567.2" y="209.5">22</text>
<text x="567.2" y="220.1">27</text>
<text x="567.2" y="230.7">28</text>
<text x="567.2" y="241.4">17</text>
<text x="567.2" y="252.0">5</text>
<text x="567.2" y="262.7">5</text>
<text x="567.2" y="273.3">5</text>
<text x="567.2" y="283.9">0</text>
<text x="567.2" y="294.6">0</text>
<text x="567.2" y="305.2">3</text>
<text x="567.2" y="315.9">3</text>
<text x="567.2" y="326.5">5</text>
<text x="567.2" y="337.1">1</text>
<text x="567.2" y="347.8">21</text>
<text x="567.2" y="358.4">27</text>
<text x="567.2" y="369.1">25</text>
<text x="567.2" y="379.7">37</text>
<text x="567.2" y="390.3">50/5</text>
<text x="567.2" y="401.0">34</text>
<text x="567.2" y="411.6">40</text>
<text x="567.2" y="422.3">28</text>
<text x="567.2" y="432.9">50/5</text>
<text x="567.2" y="443.5">50/3</text>
<text x="567.2" y="454.2">50/2</text>
</g>
<path d="M601.5,24.1H628" stroke="#a93038" stroke-width="0.9"/>
<text x="624.6" y="20.6" font-size="3.6" fill="#d0505a" font-family='"Liberation Sans","Noto Sans CJK JP",sans-serif'>N値</text>
<rect x="601.6" y="18.4" width="2" height="1.2" fill="#d88"/>
</g>
<g class="cal">
<text x="439.5" y="11.8" font-size="15" text-anchor="start" fill="#000" textLength="97.5" lengthAdjust="spacingAndGlyphs" >Geological log</text>
<text x="566.4" y="12.3" font-size="14" text-anchor="start" fill="#000" textLength="24.7" lengthAdjust="spacingAndGlyphs" >SPT</text>
<text x="565.8" y="28.1" font-size="11.6" text-anchor="start" fill="#000" textLength="5.3" lengthAdjust="spacingAndGlyphs" >0</text>
<text x="578.2" y="28.1" font-size="11.6" text-anchor="start" fill="#000" textLength="11.9" lengthAdjust="spacingAndGlyphs" >10</text>
<text x="596.8" y="28.1" font-size="11.6" text-anchor="start" fill="#000" textLength="11.0" lengthAdjust="spacingAndGlyphs" >20</text>
<text x="614.8" y="28.1" font-size="11.6" text-anchor="start" fill="#000" textLength="11.4" lengthAdjust="spacingAndGlyphs" >30</text>
<text x="632.8" y="28.1" font-size="11.6" text-anchor="start" fill="#000" textLength="11.4" lengthAdjust="spacingAndGlyphs" >40</text>
<text x="424.9" y="41.2" font-size="14" text-anchor="end" fill="#000" textLength="8" lengthAdjust="spacingAndGlyphs" >0</text>
<text x="425.7" y="144.7" font-size="14" text-anchor="end" fill="#000" textLength="16.1" lengthAdjust="spacingAndGlyphs" >10</text>
<text x="426" y="251.1" font-size="14" text-anchor="end" fill="#000" textLength="16.7" lengthAdjust="spacingAndGlyphs" >20</text>
<text x="425.5" y="357.5" font-size="14" text-anchor="end" fill="#000" textLength="16.3" lengthAdjust="spacingAndGlyphs" >30</text>
<text x="428.9" y="451.9" font-size="14" text-anchor="end" fill="#000" textLength="16.4" lengthAdjust="spacingAndGlyphs" >39</text>
<text transform="translate(400.7,34.3) rotate(90)" font-size="15.6" textLength="68.3" lengthAdjust="spacingAndGlyphs">Depth (m)</text>
<path d="M406.4,109.2V122M400.5,115L406.4,122.2L412.8,115" fill="none" stroke="#000" stroke-width="1.7" stroke-linejoin="miter"/>
<text x="650.6" y="85.4" font-size="28" text-anchor="middle" fill="#000" textLength="29.4" lengthAdjust="spacingAndGlyphs" >(b)</text>
</g>
</g>
</svg>
</body></html>
